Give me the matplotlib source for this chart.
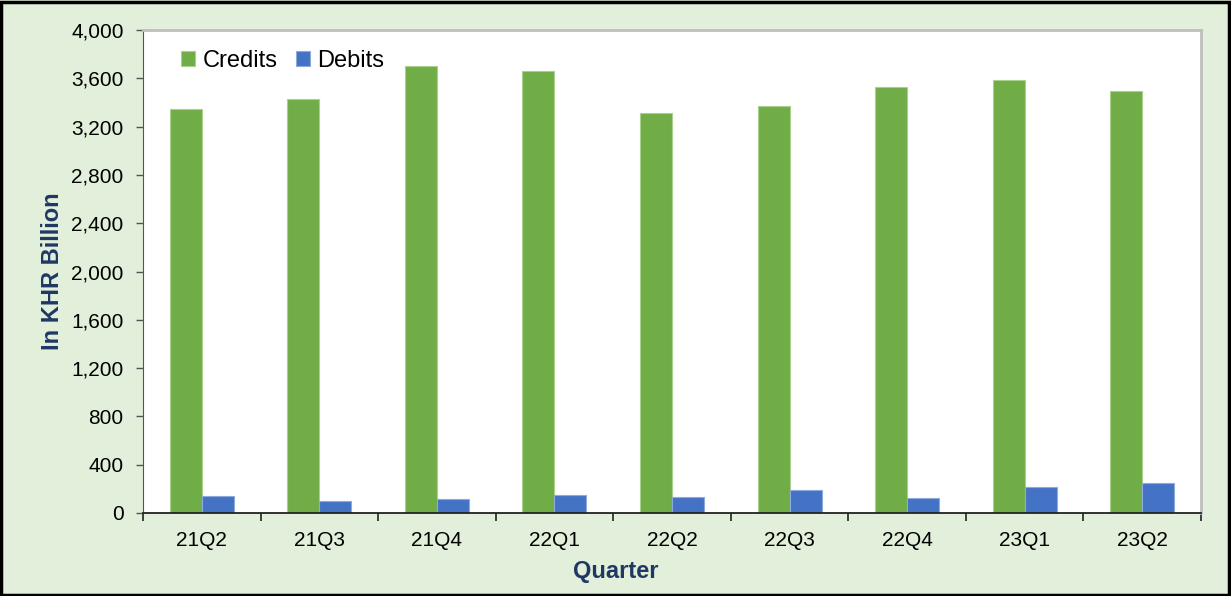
import numpy as np
import matplotlib.pyplot as plt
from matplotlib.patches import Rectangle
from matplotlib.ticker import FuncFormatter, FixedLocator

# quarterly values, KHR billion
quarters = ['21Q2', '21Q3', '21Q4', '22Q1', '22Q2', '22Q3', '22Q4', '23Q1', '23Q2']
credits = [3346, 3429, 3702, 3660, 3313, 3371, 3528, 3586, 3495]
debits = [141, 99, 113, 149, 130, 190, 122, 215, 251]

plt.rcParams['font.family'] = ['Liberation Sans', 'DejaVu Sans']

bg = '#E2EFDA'
navy = '#1F3864'

fig = plt.figure(figsize=(12.31, 5.96), dpi=100, facecolor=bg)
ax = fig.add_axes([143/1231, 1 - 513/596, (1201-143)/1231, (513-30)/596])
ax.set_facecolor('white')

x = np.arange(len(quarters))
w = 0.272
ax.bar(x - w/2, credits, w, color='#70AD47', edgecolor='#A9D08E', linewidth=0.8, label='Credits')
ax.bar(x + w/2, debits, w, color='#4472C4', edgecolor='#8EA9DB', linewidth=0.8, label='Debits')

ax.set_xlim(-0.5, len(quarters) - 0.5)
ax.set_ylim(0, 4000)
ax.set_yticks(np.arange(0, 4001, 400))
ax.yaxis.set_major_formatter(FuncFormatter(lambda v, p: f'{int(v):,}'))
ax.set_xticks(x)
ax.set_xticklabels(quarters)
ax.xaxis.set_minor_locator(FixedLocator(np.arange(-0.5, len(quarters), 1)))
ax.tick_params(axis='x', which='major', length=0, pad=13, labelsize=15, colors='black')
ax.tick_params(axis='x', which='minor', length=6, width=1.2, direction='out', color='#222222')
ax.tick_params(axis='y', length=5, width=1, direction='out', labelsize=15, color='#555555', pad=9)

for s in ['top', 'right']:
    ax.spines[s].set_color('#BFBFBF')
    ax.spines[s].set_linewidth(2)
ax.spines['left'].set_color('#555555')
ax.spines['bottom'].set_color('#222222')
ax.spines['bottom'].set_linewidth(1.3)

ax.set_ylabel('In KHR Billion', fontsize=17, fontweight='bold', color=navy)
ax.yaxis.set_label_coords(-0.075, 0.5)
ax.set_xlabel('Quarter', fontsize=17, fontweight='bold', color=navy)
ax.xaxis.set_label_coords(0.447, -0.098)

ax.legend(loc='upper left', bbox_to_anchor=(0.016, 1.002), frameon=False, fontsize=17,
          handlelength=0.6, handleheight=0.6, handletextpad=0.3, columnspacing=0.8, ncol=2)

# outer frame
fig.patches.append(Rectangle((0.001, 0.002), 0.997, 0.995, transform=fig.transFigure,
                             fill=False, edgecolor='black', linewidth=2.5))

fig.savefig('out.png', dpi=100, facecolor=bg)
